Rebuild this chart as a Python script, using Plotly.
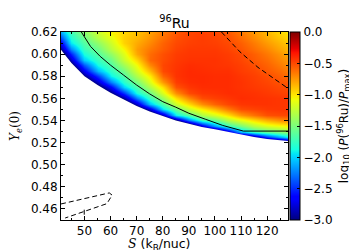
import numpy as np
import plotly.graph_objects as go

# ---------------- data ----------------
# grid of the field log10(P(96Ru)/Pmax)
S_grid = [41, 45, 50, 55, 60, 65, 70, 75, 80, 85, 90, 95, 100, 105, 110, 115, 120, 125, 128]
Ye_grid = [0.515, 0.52, 0.525, 0.53, 0.535, 0.54, 0.545, 0.55, 0.555, 0.56, 0.565,
           0.57, 0.575, 0.58, 0.585, 0.59, 0.595, 0.60, 0.605, 0.61, 0.615, 0.62]

# one column per S value, from Ye=0.515 (bottom) to Ye=0.62 (top)
col_S41 = [-4.5]*13 + [-4.28, -4.0, -3.75, -3.48, -3.21, -2.95, -2.68, -2.4, -2.11]
col_S45 = [-4.5]*11 + [-4.26, -3.97, -3.69, -3.4, -3.11, -2.83, -2.54, -2.23, -1.94, -1.83, -1.72]
col_S50 = [-4.5]*9 + [-4.23, -3.92, -3.62, -3.31, -3.0, -2.69, -2.37, -2.03, -1.86, -1.74, -1.65, -1.56, -1.45]
col_S55 = [-4.5]*7 + [-4.47, -4.13, -3.8, -3.47, -3.13, -2.8, -2.46, -2.09, -1.87, -1.75, -1.64, -1.55, -1.43, -1.30, -1.21]
col_S60 = [-4.5]*6 + [-4.45, -4.09, -3.73, -3.36, -3.0, -2.64, -2.24, -1.91, -1.78, -1.66, -1.56, -1.42, -1.28, -1.20, -1.12, -1.05]
col_S65 = [-4.5]*6 + [-4.22, -3.78, -3.35, -2.91, -2.47, -2.0, -1.80, -1.66, -1.53, -1.36, -1.22, -1.14, -1.05, -0.94, -0.93, -0.95]
col_S70 = [-4.5]*5 + [-4.37, -3.84, -3.32, -2.79, -2.24, -1.85, -1.67, -1.51, -1.31, -1.18, -1.07, -0.95, -0.80, -0.77, -0.81, -0.85, -0.88]
col_S75 = [-4.5]*5 + [-4.03, -3.39, -2.74, -2.05, -1.74, -1.55, -1.31, -1.15, -1.02, -0.86, -0.70, -0.60, -0.61, -0.65, -0.70, -0.74, -0.78]
col_S80 = [-4.5]*5 + [-3.67, -2.83, -1.95, -1.65, -1.38, -1.15, -0.97, -0.75, -0.59, -0.50, -0.49, -0.51, -0.52, -0.56, -0.58, -0.62, -0.65]
col_S85 = [-4.5]*4 + [-4.08, -3.0, -1.92, -1.56, -1.20, -0.97, -0.72, -0.53, -0.46, -0.43, -0.43, -0.44, -0.45, -0.46, -0.48, -0.50, -0.52, -0.55]
col_S90 = [-4.5]*4 + [-3.48, -2.24, -1.62, -1.22, -0.96, -0.70, -0.50, -0.44, -0.41, -0.40, -0.40, -0.41, -0.43, -0.44, -0.45, -0.47, -0.48, -0.49]
col_S95 = [-4.5]*3 + [-4.03, -2.74, -1.74, -1.31, -1.02, -0.72, -0.51, -0.44, -0.41, -0.40, -0.40, -0.41, -0.42, -0.43, -0.44, -0.45, -0.46, -0.46, -0.47]
col_S100 = [-4.5]*3 + [-3.53, -2.17, -1.57, -1.16, -0.85, -0.58, -0.47, -0.43, -0.41, -0.41, -0.41, -0.42, -0.43, -0.43, -0.44, -0.45, -0.47, -0.48, -0.49]
col_S105 = [-4.5]*2 + [-4.24, -2.86, -1.75, -1.29, -0.98, -0.66, -0.49, -0.44, -0.41, -0.41, -0.41, -0.41, -0.42, -0.44, -0.45, -0.46, -0.48, -0.50, -0.52, -0.55]
col_S110 = [-4.5, -4.5, -3.57, -2.11, -1.52, -1.11, -0.75, -0.51, -0.44, -0.41, -0.42, -0.43, -0.43, -0.44, -0.46, -0.47, -0.49, -0.50, -0.54, -0.57, -0.61, -0.65]
col_S115 = [-4.5, -4.45, -3.0, -1.78, -1.29, -0.96, -0.63, -0.48, -0.43, -0.42, -0.43, -0.45, -0.46, -0.47, -0.49, -0.52, -0.55, -0.57, -0.62, -0.66, -0.71, -0.75]
col_S120 = [-4.5, -3.97, -2.49, -1.61, -1.16, -0.82, -0.52, -0.45, -0.43, -0.43, -0.45, -0.47, -0.49, -0.51, -0.55, -0.58, -0.61, -0.65, -0.70, -0.76, -0.81, -0.85]
col_S125 = [-4.5, -3.65, -2.14, -1.51, -1.09, -0.72, -0.50, -0.44, -0.44, -0.44, -0.47, -0.50, -0.53, -0.57, -0.61, -0.66, -0.70, -0.74, -0.80, -0.85, -0.90, -0.95]
col_S128 = [-4.5, -3.44, -1.94, -1.43, -1.05, -0.69, -0.49, -0.44, -0.44, -0.44, -0.48, -0.52, -0.55, -0.61, -0.66, -0.71, -0.75, -0.80, -0.85, -0.90, -0.95, -1.00]

# lower edge of the computed region (white below)
edge_S = S_grid
edge_Ye = [0.604, 0.592, 0.580, 0.572, 0.565, 0.559, 0.553, 0.548, 0.544, 0.540, 0.537,
           0.534, 0.532, 0.5295, 0.527, 0.525, 0.5233, 0.5222, 0.5215]

# solid black curve
solid_S = [48.8, 52.3, 56, 60, 65, 70, 75, 80, 85, 90, 96.5, 103, 110.9, 128]
solid_Ye = [0.62, 0.607, 0.598, 0.590, 0.581, 0.572, 0.564, 0.557, 0.552, 0.5465, 0.541, 0.5355, 0.5304, 0.5304]

# dashed curves
dashA_S = [102.5, 109.6, 116.5, 124, 128]
dashA_Ye = [0.62, 0.602, 0.588, 0.576, 0.569]
dashB_S = [41, 59.5, 60.6, 58.6, 42.6]
dashB_Ye = [0.4645, 0.4745, 0.4725, 0.4648, 0.4518]
dashC_S = [49.9, 49.9]
dashC_Ye = [0.4548, 0.4600]

x_range = [41, 128]
y_range = [0.45, 0.62]
x_ticks = [50, 60, 70, 80, 90, 100, 110, 120]
y_ticks = [0.46, 0.48, 0.50, 0.52, 0.54, 0.56, 0.58, 0.60, 0.62]
cb_ticks = [0.0, -0.5, -1.0, -1.5, -2.0, -2.5, -3.0]
cb_labels = ["0.0", "\u22120.5", "\u22121.0", "\u22121.5", "\u22122.0", "\u22122.5", "\u22123.0"]

# ---------------- build figure ----------------
columns = [col_S41, col_S45, col_S50, col_S55, col_S60, col_S65, col_S70, col_S75, col_S80,
           col_S85, col_S90, col_S95, col_S100, col_S105, col_S110, col_S115, col_S120,
           col_S125, col_S128]
z = np.array(columns).T

jet = [[0.0, "rgb(0,0,127)"], [0.11, "rgb(0,0,255)"], [0.125, "rgb(0,0,255)"],
       [0.34, "rgb(0,219,255)"], [0.35, "rgb(0,229,247)"], [0.375, "rgb(21,255,226)"],
       [0.64, "rgb(239,255,8)"], [0.65, "rgb(247,245,0)"], [0.66, "rgb(255,236,0)"],
       [0.89, "rgb(255,19,0)"], [0.91, "rgb(232,0,0)"], [1.0, "rgb(127,0,0)"]]

FONT = "DejaVu Sans"
SERIF = "DejaVu Serif"

fig = go.Figure()
fig.add_trace(go.Heatmap(
    x=S_grid, y=Ye_grid, z=z, zmin=-3, zmax=0, zsmooth="best",
    colorscale=jet, hoverinfo="skip",
    colorbar=dict(
        thickness=10, len=1, lenmode="fraction", x=1.0086, xanchor="left", xpad=0,
        y=0.5, yanchor="middle", ypad=0,
        outlinewidth=1, outlinecolor="black",
        tickmode="array", tickvals=cb_ticks, ticktext=cb_labels,
        ticks="inside", ticklen=3, tickcolor="black",
        tickfont=dict(family=FONT, size=12, color="black"),
        title=dict(text="log<sub>10</sub> (<i>P</i>(<sup>96</sup>Ru)/<i>P</i><sub>max</sub>)",
                   side="right", font=dict(family=FONT, size=12, color="black")),
    ),
))
# white region below the computed edge
fig.add_trace(go.Scatter(
    x=list(edge_S) + [x_range[1], x_range[0]],
    y=list(edge_Ye) + [y_range[0], y_range[0]],
    mode="lines", fill="toself", fillcolor="white",
    line=dict(width=0, color="white"), hoverinfo="skip", showlegend=False))
fig.add_trace(go.Scatter(x=solid_S, y=solid_Ye, mode="lines",
                         line=dict(color="black", width=1), hoverinfo="skip", showlegend=False))
for xs, ys in [(dashA_S, dashA_Ye), (dashB_S, dashB_Ye), (dashC_S, dashC_Ye)]:
    fig.add_trace(go.Scatter(x=xs, y=ys, mode="lines",
                             line=dict(color="black", width=1, dash="5px,3px"),
                             hoverinfo="skip", showlegend=False))

axis_common = dict(showgrid=False, zeroline=False, showline=True, linecolor="black", linewidth=1,
                   mirror="allticks", ticks="inside", ticklen=4, tickwidth=1, tickcolor="black",
                   automargin=False,
                   tickfont=dict(family=FONT, size=12, color="black"))
fig.update_xaxes(range=x_range, tickmode="array", tickvals=x_ticks,
                 ticktext=[str(v) for v in x_ticks],
                 minor=dict(dtick=5, tick0=0, ticks="inside", ticklen=2, tickcolor="black", showgrid=False),
                 **axis_common)
fig.update_yaxes(range=y_range, tickmode="array", tickvals=y_ticks,
                 ticktext=["%.2f" % v for v in y_ticks],
                 minor=dict(dtick=0.01, tick0=0, ticks="inside", ticklen=2, tickcolor="black", showgrid=False),
                 title=dict(text="<i>Y</i><sub><i>e</i></sub>(0)",
                            font=dict(family=SERIF, size=12, color="black"), standoff=15),
                 **axis_common)

fig.add_annotation(
    text='<span style="font-family:DejaVu Serif"><i>S</i></span> (k<sub>B</sub>/nuc)',
    xref="paper", yref="paper", x=0.435, y=-0.13, xanchor="center", yanchor="middle",
    showarrow=False, font=dict(family=FONT, size=12.5, color="black"))

fig.update_layout(
    width=357, height=250,
    margin=dict(l=53, r=72, t=24, b=38, pad=0),
    paper_bgcolor="white", plot_bgcolor="white",
    font=dict(family=FONT, size=12, color="black"),
    title=dict(text="<sup>96</sup>Ru", x=0.5, xref="paper", y=1 - 15 / 250, yref="container",
               xanchor="center", yanchor="middle", font=dict(family=FONT, size=14, color="black")),
    showlegend=False,
)

fig.write_html("out.html", config={"displayModeBar": False, "staticPlot": True})
